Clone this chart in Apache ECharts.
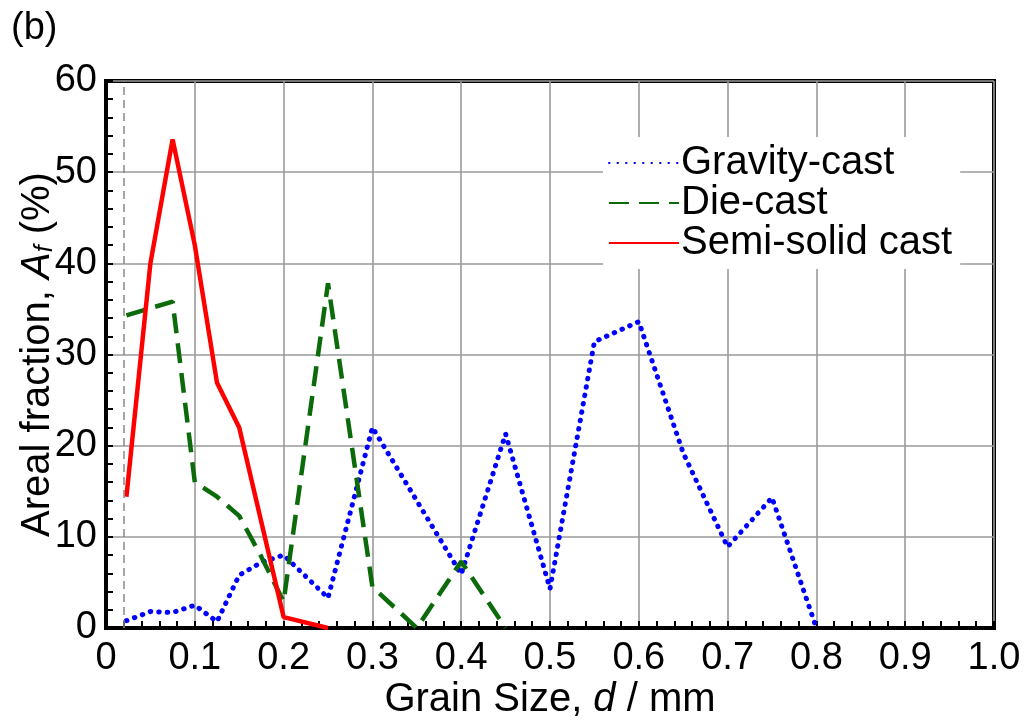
<!DOCTYPE html>
<html>
<head>
<meta charset="utf-8">
<script src="https://cdn.jsdelivr.net/npm/echarts@6/dist/echarts.min.js"></script>
<style>
html,body{margin:0;padding:0;background:#fff;}
#main{width:1024px;height:724px;}
</style>
</head>
<body>
<div id="main"></div>
<script>
// grain size (mm) and areal fraction (%)
var gravityX = [0.023, 0.05, 0.075, 0.1, 0.125, 0.15, 0.175, 0.2, 0.25, 0.3, 0.4, 0.45, 0.5, 0.55, 0.6, 0.65, 0.7, 0.75, 0.8];
var gravityY = [0.8, 1.8, 1.7, 2.5, 0.7, 5.8, 7.2, 8.0, 3.3, 22.0, 5.9, 21.3, 4.3, 31.4, 33.6, 19.2, 8.9, 14.3, 0];

var dieX = [0.023, 0.075, 0.1, 0.125, 0.15, 0.175, 0.2, 0.25, 0.3, 0.35, 0.4, 0.45];
var dieY = [34.3, 35.8, 16.0, 14.4, 12.3, 7.8, 2.9, 37.8, 4.5, 0, 7.3, 0];

var semiX = [0.023, 0.05, 0.075, 0.1, 0.125, 0.15, 0.2, 0.25];
var semiY = [14.4, 40.0, 53.6, 42.0, 26.9, 22.0, 1.2, 0];

var refLineX = 0.023;
var xTicks = [0, 0.1, 0.2, 0.3, 0.4, 0.5, 0.6, 0.7, 0.8, 0.9, 1.0];
var yTicks = [0, 10, 20, 30, 40, 50, 60];

function pairs(xs, ys) {
	var out = [];
	for (var i = 0; i < xs.length; i++) {
		out.push([xs[i], ys[i]]);
	}
	return out;
}

var font = 'Liberation Sans, Arial, sans-serif';
var myChart = echarts.init(document.getElementById('main'));

var option = {
	animation: false,
	backgroundColor: '#fff',
	textStyle: { fontFamily: font },
	title: {
		text: '(b)',
		left: 6,
		top: 5,
		textStyle: { fontSize: 38, fontWeight: 'normal', color: '#000', fontFamily: font }
	},
	grid: {
		left: 106, right: 30, top: 81, bottom: 96,
		outerBoundsMode: 'none',
		containLabel: false,
		show: true, borderColor: '#000', borderWidth: 4
	},
	legend: {
		orient: 'vertical',
		left: 603,
		top: 137,
		backgroundColor: '#fff',
		padding: [6, 8, 6, 5],
		itemWidth: 70,
		itemHeight: 14,
		itemGap: 0,
		itemStyle: { opacity: 0 },
		textStyle: { fontSize: 40, lineHeight: 40, color: '#000', fontFamily: font, padding: [0, 0, 0, -3] },
		data: ['Gravity-cast', 'Die-cast', 'Semi-solid cast']
	},
	xAxis: {
		type: 'value',
		min: xTicks[0],
		max: xTicks[xTicks.length - 1],
		interval: 0.1,
		name: '{n|Grain Size, }{i|d}{n| / mm}',
		nameLocation: 'middle',
		nameGap: 52,
		nameMoveOverlap: false,
		nameTextStyle: {
			rich: {
				n: { fontSize: 40, color: '#000', fontFamily: font },
				i: { fontSize: 40, color: '#000', fontFamily: font, fontStyle: 'italic' }
			}
		},
		axisLine: { show: true, lineStyle: { color: '#000', width: 4 } },
		axisTick: { show: true, inside: true, length: 7, lineStyle: { color: '#000', width: 2 } },
		minorTick: { show: true, splitNumber: 5, length: 7, lineStyle: { color: '#000', width: 2 } },
		splitLine: { show: true, lineStyle: { color: '#9a9a9a', width: 1.6 } },
		axisLabel: {
			fontSize: 38, color: '#000', margin: 12, fontFamily: font,
			formatter: function (v) { return v === 0 ? '0' : v.toFixed(1); }
		}
	},
	yAxis: {
		type: 'value',
		min: yTicks[0],
		max: yTicks[yTicks.length - 1],
		interval: 10,
		name: '{n|Areal fraction, }{i|A}{s|f}{n| (%)}',
		nameLocation: 'middle',
		nameGap: 48,
		nameMoveOverlap: false,
		nameTextStyle: {
			rich: {
				n: { fontSize: 40, color: '#000', fontFamily: font },
				i: { fontSize: 40, color: '#000', fontFamily: font, fontStyle: 'italic' },
				s: { fontSize: 25, color: '#000', fontFamily: font, fontStyle: 'italic', verticalAlign: 'bottom', padding: [14, 0, 0, 0] }
			}
		},
		axisLine: { show: true, lineStyle: { color: '#000', width: 4 } },
		axisTick: { show: true, inside: true, length: 7, lineStyle: { color: '#000', width: 2 } },
		minorTick: { show: true, splitNumber: 5, length: 7, lineStyle: { color: '#000', width: 2 } },
		splitLine: { show: true, lineStyle: { color: '#9a9a9a', width: 1.6 } },
		axisLabel: { fontSize: 38, color: '#000', margin: 9, fontFamily: font }
	},
	series: [
		{
			name: 'Gravity-cast',
			type: 'line',
			symbol: 'none',
			z: 3,
			data: pairs(gravityX, gravityY),
			lineStyle: { color: '#0000ff', width: 5, type: [0.5, 8], cap: 'round' },
			itemStyle: { color: '#0000ff' },
			markLine: {
				silent: true,
				symbol: 'none',
				label: { show: false },
				lineStyle: { color: '#888', width: 1.5, type: [8, 5] },
				data: [{ xAxis: refLineX }]
			}
		},
		{
			name: 'Die-cast',
			type: 'line',
			symbol: 'none',
			z: 3,
			data: pairs(dieX, dieY),
			lineStyle: { color: '#0b6b0b', width: 4.5, type: [20, 10] },
			itemStyle: { color: '#0b6b0b' }
		},
		{
			name: 'Semi-solid cast',
			type: 'line',
			symbol: 'none',
			z: 4,
			data: pairs(semiX, semiY),
			lineStyle: { color: '#ff0000', width: 4.5 },
			itemStyle: { color: '#ff0000' }
		}
	]
};
myChart.setOption(option);
</script>
</body>
</html>
